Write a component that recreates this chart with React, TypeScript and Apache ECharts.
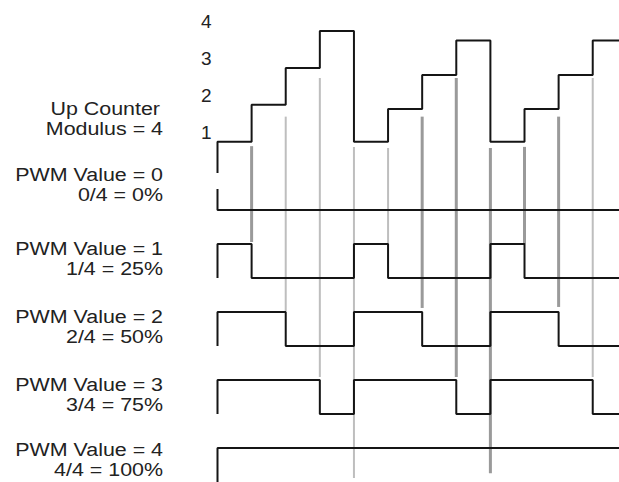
import React, { useEffect, useRef } from "react";
import * as echarts from "echarts";

// ---- data ----
// y values are in counter units (1 unit = one counter step on the top trace)
const counterTicks = [1, 2, 3, 4];
const counterStart = 0.15;
const counterLevels = [1, 2, 3, 4, 1, 1.89, 2.81, 3.74, 1, 1.89, 2.81, 3.74];

const counterLabel = ["Up Counter", "Modulus = 4"];
const pwmLabels = [
  ["PWM Value = 0", "0/4 = 0%"],
  ["PWM Value = 1", "1/4 = 25%"],
  ["PWM Value = 2", "2/4 = 50%"],
  ["PWM Value = 3", "3/4 = 75%"],
  ["PWM Value = 4", "4/4 = 100%"],
];

// PWM outputs: 1 = high, 0 = low, one value per counter step
const pwmStart = [0.62, 0, 0, 0, 0];
const pwm0 = [0, 0, 0, 0, 0, 0, 0, 0, 0, 0, 0, 0];
const pwm1 = [1, 0, 0, 0, 1, 0, 0, 0, 1, 0, 0, 0];
const pwm2 = [1, 1, 0, 0, 1, 1, 0, 0, 1, 1, 0, 0];
const pwm3 = [1, 1, 1, 0, 1, 1, 1, 0, 1, 1, 1, 0];
const pwm4 = [1, 1, 1, 1, 1, 1, 1, 1, 1, 1, 1, 1];
const pwmRows = [pwm0, pwm1, pwm2, pwm3, pwm4];

// grey compare-match / reset markers
const markTimes = [1, 2, 3, 4, 5, 6, 7, 8, 9, 10, 11];
const markTops = [0.88, 1.68, 2.73, 0.86, 0.83, 1.68, 2.73, 0.83, 0.86, 1.68, 2.73];
const markRows = [1, 2, 3, 4, 1, 2, 3, 4, 1, 2, 3];
const markEndLevels = [1.06, 1.03, 1.09, 0.12, 1, 1.12, 1.09, 0.26, 1, 1.15, 1.09];
const markHeavy = [1, 0, 0, 0, 0, 1, 1, 1, 1, 1, 0];

// ---- layout (axis units) ----
const TIME_MAX = 11.77;
const ROW0_LOW = -0.851;
const ROW_STEP = 1.843;
const AMP = 0.921;
const rowValue = (r: number, level: number) => ROW0_LOW - r * ROW_STEP + level * AMP;

const FONT = '"Liberation Sans", Arial, Helvetica, sans-serif';
const labelYs = [
  [109, 129],
  [175, 195],
  [249, 269],
  [317, 337],
  [385, 405],
  [450, 470],
];
const labelXs = [
  [160, 163],
  [163, 163],
  [163, 163],
  [163, 163],
  [163, 163],
  [163, 163],
];

export default function App() {
  const ref = useRef<HTMLDivElement>(null);
  useEffect(() => {
    if (!ref.current) return;
    const chart = echarts.init(ref.current, undefined, { renderer: "svg" });

    const counterPts: number[][] = [[0, counterStart]];
    counterLevels.forEach((v, i) => {
      counterPts.push([i, v], [i + 1, v]);
    });

    const pwmSeries = pwmRows.map((row, r) => {
      const pts: number[][] = [[0, rowValue(r, pwmStart[r])]];
      row.forEach((lv, i) => {
        pts.push([i, rowValue(r, lv)], [i + 1, rowValue(r, lv)]);
      });
      return {
        type: "line",
        name: pwmLabels[r][0],
        data: pts,
        symbol: "none",
        z: 3,
        lineStyle: { color: "#151515", width: 2 },
      };
    });

    const marks = markTimes.map((t, i) => [
      t,
      markTops[i],
      rowValue(markRows[i], markEndLevels[i]),
      markHeavy[i],
    ]);

    const allLabels = [counterLabel, ...pwmLabels];
    const graphics: any[] = [];
    allLabels.forEach((pair, k) => {
      pair.forEach((txt, j) => {
        graphics.push({
          type: "text",
          x: labelXs[k][j],
          y: labelYs[k][j],
          scaleX: 1.19,
          style: {
            text: txt,
            fill: "#222",
            font: `18px ${FONT}`,
            align: "right",
            verticalAlign: "middle",
            textAlign: "right",
            textVerticalAlign: "middle",
          },
        });
      });
    });

    chart.setOption({
      animation: false,
      textStyle: { fontFamily: FONT },
      grid: { left: 217.5, top: 1.5, right: 0, height: 13 * 36.9 },
      xAxis: { type: "value", min: 0, max: TIME_MAX, show: false },
      yAxis: {
        type: "value",
        min: -8.2,
        max: 4.8,
        splitLine: { show: false },
        axisLine: { show: false },
        axisTick: { show: false },
        axisLabel: {
          customValues: counterTicks,
          color: "#222",
          fontSize: 19,
          fontFamily: FONT,
          margin: 6,
          verticalAlign: "bottom",
        },
      },
      graphic: graphics,
      series: [
        {
          type: "custom",
          name: "markers",
          z: 2,
          encode: { x: 0, y: [1, 2] },
          data: marks,
          renderItem: (params: any, api: any) => {
            const p1 = api.coord([api.value(0), api.value(1)]);
            const p2 = api.coord([api.value(0), api.value(2)]);
            const heavy = api.value(3) === 1;
            return {
              type: "line",
              shape: { x1: p1[0], y1: p1[1], x2: p2[0], y2: p2[1] },
              style: { stroke: heavy ? "#9a9a9a" : "#bebebe", lineWidth: heavy ? 3 : 2 },
            };
          },
        },
        {
          type: "line",
          name: "Up Counter",
          data: counterPts,
          symbol: "none",
          z: 3,
          lineStyle: { color: "#151515", width: 2 },
        },
        ...pwmSeries,
      ],
    });
    return () => chart.dispose();
  }, []);
  return (
    <div
      ref={ref}
      style={{ position: "absolute", left: 0, top: 0, width: 619, height: 482, background: "#fff" }}
    />
  );
}
